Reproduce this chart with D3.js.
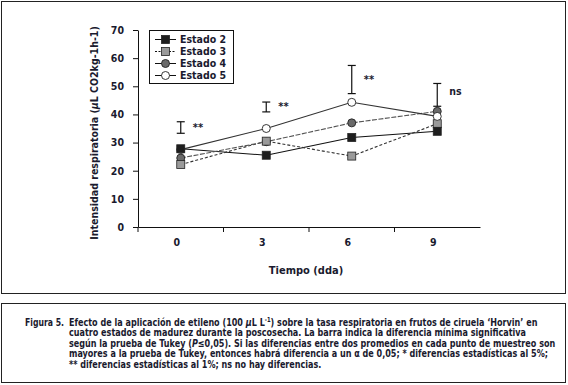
<!DOCTYPE html>
<html><head><meta charset="utf-8">
<script src="https://cdn.jsdelivr.net/npm/d3@7/dist/d3.min.js"></script>
<style>
html,body{margin:0;padding:0;background:#fff;}
svg{display:block;}
text{font-family:"Liberation Sans Narrow","Arial Narrow","DejaVu Sans Condensed",sans-serif;font-weight:bold;fill:#1a1a2e;}
</style></head>
<body>
<svg id="c" width="568" height="385"></svg>
<script>
const categories = ["0", "3", "6", "9"];
const estado2 = [27.8, 25.5, 31.8, 34.0];
const estado3 = [22.2, 30.5, 25.2, 36.7];
const estado4 = [24.5, 30.3, 37.0, 41.1];
const estado5 = [27.5, 35.0, 44.3, 39.3];
const lsdLow = [33.3, 40.9, 47.4, 42.9];
const lsdHigh = [37.4, 44.4, 57.4, 51.0];
const signif = ["**", "**", "**", "ns"];
const yTicks = [0, 10, 20, 30, 40, 50, 60, 70];
const seriesNames = ["Estado 2", "Estado 3", "Estado 4", "Estado 5"];

const series = [
  {name: seriesNames[0], values: estado2, shape: "square", fill: "#1e1e1e", dash: null, stroke: "#111"},
  {name: seriesNames[1], values: estado3, shape: "square", fill: "#9a9a9a", dash: "3,2", stroke: "#333"},
  {name: seriesNames[2], values: estado4, shape: "circle", fill: "#6a6a6a", dash: "5,1.5", stroke: "#555"},
  {name: seriesNames[3], values: estado5, shape: "circle", fill: "#ffffff", dash: null, stroke: "#333"}
];

const svg = d3.select("#c");
const x = d3.scaleBand().domain(categories).range([138, 480]);
const y = d3.scaleLinear().domain([0, 70]).range([227, 30]);
const cx = c => x(c) + x.bandwidth() / 2;

// frames
svg.append("rect").attr("x", 1.5).attr("y", 1.5).attr("width", 564).attr("height", 292)
  .attr("fill", "none").attr("stroke", "#222").attr("stroke-width", 1);
svg.append("rect").attr("x", 1.5).attr("y", 303.5).attr("width", 564).attr("height", 79)
  .attr("fill", "none").attr("stroke", "#222").attr("stroke-width", 1);

// y axis
const ya = svg.append("g").attr("transform", "translate(138,0)")
  .call(d3.axisLeft(y).tickValues(yTicks).tickSize(5).tickSizeOuter(0).tickPadding(9));
ya.selectAll("text").attr("font-size", 10.5).style("font-family", null);
ya.select(".domain").attr("stroke", "#111");
ya.selectAll(".tick line").attr("stroke", "#111");

// x axis
const xa = svg.append("g").attr("transform", "translate(0,227)")
  .call(d3.axisBottom(x).tickSize(0).tickSizeOuter(0).tickPadding(12));
xa.selectAll("text").attr("font-size", 10.5).attr("dx", -4).style("font-family", null);
xa.select(".domain").attr("stroke", "#111");
svg.append("g").selectAll("line").data(categories).join("line")
  .attr("x1", d => x(d)).attr("x2", d => x(d))
  .attr("y1", 227).attr("y2", 232).attr("stroke", "#111");

// axis titles
svg.append("text").attr("x", 306).attr("y", 274).attr("text-anchor", "middle")
  .attr("font-size", 11).text("Tiempo (dda)");
const yl = svg.append("text").attr("transform", "translate(98,133) rotate(-90)")
  .attr("text-anchor", "middle").attr("font-size", 10.5);
yl.append("tspan").text("Intensidad respiratoria (");
yl.append("tspan").attr("font-style", "italic").text("µ");
yl.append("tspan").text("L CO2kg-1h-1)");

// lines
const line = d3.line().x((d, i) => cx(categories[i])).y(d => y(d));
series.forEach(s => {
  svg.append("path").datum(s.values).attr("d", line)
    .attr("fill", "none").attr("stroke", s.stroke).attr("stroke-width", 1.1)
    .attr("stroke-dasharray", s.dash);
});

function marker(g, s, px, py) {
  if (s.shape === "square") {
    g.append("rect").attr("x", px - 4).attr("y", py - 4).attr("width", 8).attr("height", 8)
      .attr("fill", s.fill).attr("stroke", "#222").attr("stroke-width", 0.8);
  } else {
    g.append("circle").attr("cx", px).attr("cy", py).attr("r", 4)
      .attr("fill", s.fill).attr("stroke", "#222").attr("stroke-width", 0.9);
  }
}
const drawOrder = [2, 1, 3, 0];
drawOrder.forEach(k => {
  const s = series[k];
  const g = svg.append("g");
  s.values.forEach((v, i) => marker(g, s, cx(categories[i]), y(v)));
});

// LSD bars
const bars = svg.append("g");
categories.forEach((c, i) => {
  const px = cx(c), y1 = y(lsdHigh[i]), y2 = y(lsdLow[i]);
  bars.append("line").attr("x1", px).attr("x2", px).attr("y1", y1).attr("y2", y2).attr("stroke", "#111").attr("stroke-width", 1.2);
  bars.append("line").attr("x1", px - 4).attr("x2", px + 4).attr("y1", y1).attr("y2", y1).attr("stroke", "#111").attr("stroke-width", 1.2);
  bars.append("line").attr("x1", px - 4).attr("x2", px + 4).attr("y1", y2).attr("y2", y2).attr("stroke", "#111").attr("stroke-width", 1.2);
  bars.append("text").attr("x", px + 12).attr("y", (y1 + y2) / 2 + (signif[i] === "ns" ? 0 : 3.5))
    .attr("font-size", signif[i] === "ns" ? 10.5 : 11).text(signif[i]);
});

// legend
const lg = svg.append("g");
lg.append("rect").attr("x", 149.5).attr("y", 30.5).attr("width", 84).attr("height", 53)
  .attr("fill", "#fff").attr("stroke", "#111").attr("stroke-width", 1);
series.forEach((s, k) => {
  const ly = 39.5 + k * 12;
  lg.append("line").attr("x1", 155).attr("x2", 176).attr("y1", ly).attr("y2", ly)
    .attr("stroke", "#111").attr("stroke-width", 1).attr("stroke-dasharray", k === 1 ? "2,1.5" : null);
  marker(lg, s, 165.5, ly);
  lg.append("text").attr("x", 180).attr("y", ly + 3.8).attr("font-size", 10.5).text(s.name);
});

// caption: horizontally condensed via a common scale factor
const fs = 10.5;
const capBase = [325.5, 336, 346.5, 357, 367.5];
const capGroups = [];
function capText(xx, yy, parts) {
  const g = svg.append("g").attr("transform", `translate(${xx},${yy})`);
  const t = g.append("text").attr("x", 0).attr("y", 0).attr("font-size", fs);
  parts.forEach(p => {
    const ts = t.append("tspan").text(p.t);
    if (p.i) ts.attr("font-style", "italic");
    if (p.sup) ts.attr("font-size", fs * 0.65).attr("dy", -4);
    if (p.after) ts.attr("dy", 4);
  });
  const o = {g, t, xx, yy};
  capGroups.push(o);
  return o;
}
const indent = 69;
const fig = capText(25, capBase[0], [{t: "Figura 5."}]);
capText(indent, capBase[0], [{t: "Efecto de la aplicación de etileno (100 "}, {t: "µ", i: true}, {t: "L L"}, {t: "-1", sup: true}, {t: ") sobre la tasa respiratoria en frutos de ciruela ‘Horvin’ en", after: true}]);
capText(indent, capBase[1], [{t: "cuatro estados de madurez durante la poscosecha. La barra indica la diferencia mínima significativa"}]);
const ref = capText(indent, capBase[2], [{t: "según la prueba de Tukey ("}, {t: "P", i: true}, {t: "≤0,05). Si las diferencias entre dos promedios en cada punto de muestreo son"}]);
capText(indent, capBase[3], [{t: "mayores a la prueba de Tukey, entonces habrá diferencia a un α de 0,05; * diferencias estadísticas al 5%;"}]);
capText(indent, capBase[4], [{t: "** diferencias estadísticas al 1%; ns no hay diferencias."}]);
const w3 = ref.t.node().getComputedTextLength();
const sx = w3 > 0 ? Math.min(1, (556 - indent) / w3) : 1;
capGroups.forEach(o => o.g.attr("transform", `translate(${o.xx},${o.yy}) scale(${sx},1)`));
// make sure "Figura 5." does not run into the indented text
const wf = fig.t.node().getComputedTextLength() * sx;
if (25 + wf > indent - 5) {
  const fsx = (indent - 30) / fig.t.node().getComputedTextLength();
  fig.g.attr("transform", `translate(25,${capBase[0]}) scale(${fsx},1)`);
}
</script>
</body></html>
